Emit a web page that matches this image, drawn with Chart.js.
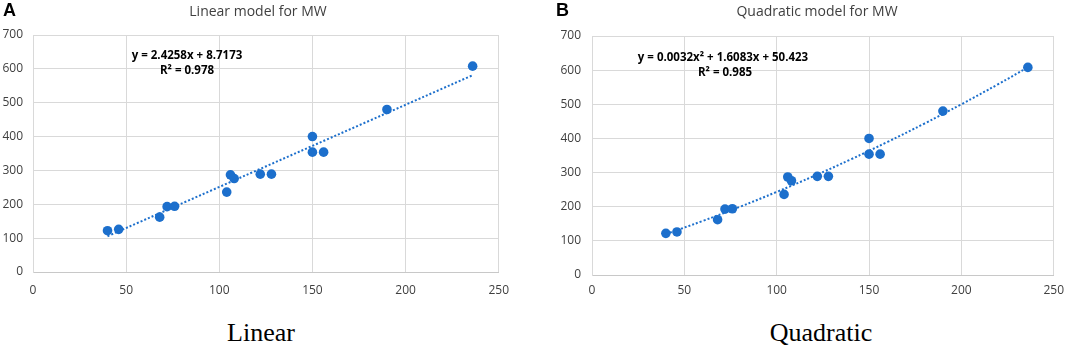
<!DOCTYPE html>
<html>
<head>
<meta charset="utf-8">
<script src="https://cdn.jsdelivr.net/npm/chart.js@4"></script>
<style>
  body { margin: 0; background: #fff; }
  #page { position: relative; width: 1072px; height: 351px; overflow: hidden; background: #fff; }
  .box { position: absolute; top: 0; height: 300px; }
  .letter { position: absolute; top: 0; font: bold 18px "Liberation Sans", Arial, sans-serif; color: #000; }
  .title { position: absolute; font: 14px "Open Sans", sans-serif; color: #404040; transform: translate(-50%, -50%); white-space: nowrap; }
  .eq { position: absolute; font: bold 11.5px "Open Sans", sans-serif; color: #000; transform: translate(-50%, -50%); white-space: nowrap; }
  .caption { position: absolute; font: 26px "Liberation Serif", serif; color: #000; transform: translateX(-50%); white-space: nowrap; }
</style>
</head>
<body>
<div id="page">
  <div class="box" style="left:0;width:520px"><canvas id="chartLinear"></canvas></div>
  <div class="box" style="left:540px;width:532px"><canvas id="chartQuad"></canvas></div>

  <div class="letter" style="left:3px">A</div>
  <div class="letter" style="left:556px">B</div>
  <div class="title" style="left:258px;top:10px">Linear model for MW</div>
  <div class="title" style="left:817px;top:10px">Quadratic model for MW</div>

  <div class="eq" style="left:187px;top:54px">y = 2.4258x + 8.7173</div>
  <div class="eq" style="left:187px;top:69px">R² = 0.978</div>
  <div class="eq" style="left:723px;top:56px">y = 0.0032x² + 1.6083x + 50.423</div>
  <div class="eq" style="left:725px;top:71px">R² = 0.985</div>

  <div class="caption" style="left:261px;top:318px">Linear</div>
  <div class="caption" style="left:821px;top:318px">Quadratic</div>
</div>

<script>
// measured points (same in both panels)
const mwX = [40, 46, 68, 72, 76, 104, 106, 108, 122, 128, 150, 150, 156, 190, 236];
const mwY = [122, 126, 162, 193, 194, 236, 287, 276, 289, 289, 400, 354, 354, 480, 608];

// trendlines
const linFitX = [40, 236];
const linFitY = [105.7, 581.2];
const quadFitX = [40, 60, 80, 100, 120, 140, 160, 180, 200, 220, 236];
const quadFitY = [119.9, 158.4, 199.6, 243.3, 289.5, 338.3, 389.7, 443.6, 500.1, 559.1, 608.2];

const xTicks = [0, 50, 100, 150, 200, 250];
const yTicks = [0, 100, 200, 300, 400, 500, 600, 700];

const blue = "#1c6fcc";
const gridColor = "#d9d9d9";
const tickColor = "#404040";

function toPoints(xs, ys) {
  return xs.map((x, i) => ({ x: x, y: ys[i] }));
}

function makeChart(id, fitX, fitY, opts) {
  const ctx = document.getElementById(id);
  return new Chart(ctx, {
    type: "scatter",
    data: {
      datasets: [
        {
          data: toPoints(mwX, mwY),
          backgroundColor: blue,
          borderColor: blue,
          pointRadius: 4.8,
          pointBorderWidth: 0,
          order: 2,
        },
        {
          data: toPoints(fitX, fitY),
          showLine: true,
          borderColor: blue,
          borderWidth: 2,
          borderDash: [2, 2],
          pointRadius: 0,
          fill: false,
          tension: 0.4,
          order: 1,
        },
      ],
    },
    options: {
      responsive: true,
      maintainAspectRatio: false,
      animation: false,
      layout: {
        padding: { top: opts.top, right: opts.right, left: 0, bottom: 0 },
      },
      plugins: {
        legend: { display: false },
        tooltip: { enabled: false },
      },
      scales: {
        x: {
          type: "linear",
          min: 0,
          max: 250,
          afterBuildTicks: (s) => { s.ticks = xTicks.map((v) => ({ value: v })); },
          afterFit: (s) => { s.height = opts.xh; },
          grid: { color: gridColor, drawTicks: false, lineWidth: 1 },
          border: { color: "#c8c8c8", width: 1 },
          ticks: {
            color: tickColor,
            padding: opts.xpad,
            maxRotation: 0,
            font: { family: "Open Sans", size: 12 },
          },
        },
        y: {
          type: "linear",
          min: 0,
          max: 700,
          afterBuildTicks: (s) => { s.ticks = yTicks.map((v) => ({ value: v })); },
          afterFit: (s) => { s.width = opts.yw; },
          grid: { color: gridColor, drawTicks: false, lineWidth: 1 },
          border: { color: gridColor, width: 1 },
          ticks: {
            color: tickColor,
            padding: opts.ypad,
            font: { family: "Open Sans", size: 12 },
          },
        },
      },
    },
  });
}

makeChart("chartLinear", linFitX, linFitY, { top: 35, right: 20, xh: 28, yw: 33, xpad: 11, ypad: 10 });
makeChart("chartQuad", quadFitX, quadFitY, { top: 36, right: 13, xh: 25, yw: 52, xpad: 8, ypad: 11 });
</script>
</body>
</html>
